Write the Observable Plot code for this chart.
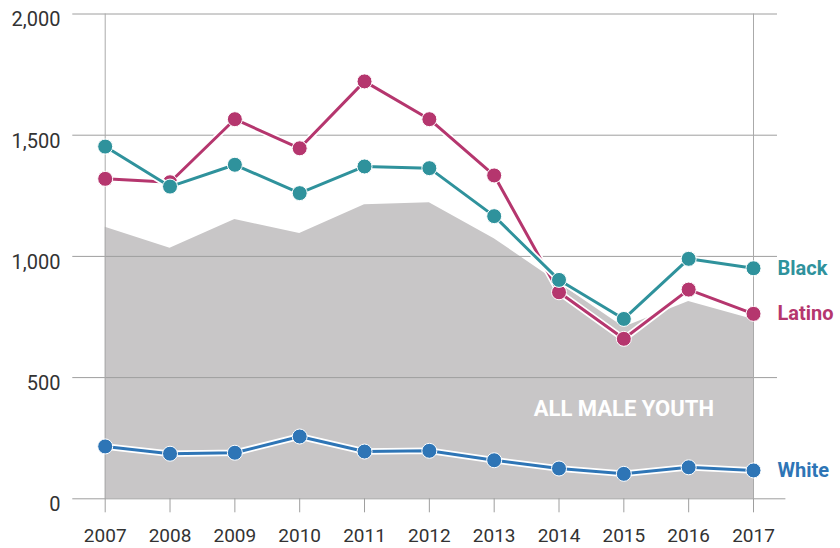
<!DOCTYPE html>
<html><head><meta charset="utf-8">
<script src="https://cdn.jsdelivr.net/npm/d3@7"></script>
<script src="https://cdn.jsdelivr.net/npm/@observablehq/plot@0.6"></script>
<style>
body{margin:0;background:#fff;}
#chart svg{display:block;}
</style>
</head><body><div id="chart"></div>
<script>
const years = [2007, 2008, 2009, 2010, 2011, 2012, 2013, 2014, 2015, 2016, 2017];
const black = [1453, 1288, 1378, 1261, 1371, 1364, 1166, 903, 742, 990, 951];
const latino = [1320, 1306, 1566, 1446, 1722, 1566, 1334, 852, 660, 863, 763];
const white = [216, 186, 190, 257, 195, 198, 159, 125, 103, 130, 117];
const allMaleYouth = [1120, 1034, 1152, 1094, 1213, 1221, 1073, 890, 708, 814, 740];
const yTicks = [0, 500, 1000, 1500, 2000];
const seriesNames = ["Latino", "Black", "White"];
const seriesColors = {Black: "#2f929c", Latino: "#b5366e", White: "#2e75b6"};
const areaLabel = [{text: "ALL MALE YOUTH", year: 2015, value: 372}];

const seriesValues = {Black: black, Latino: latino, White: white};
const rows = seriesNames.flatMap(name => years.map((year, i) => ({name, year, value: seriesValues[name][i]})));
const areaRows = years.map((year, i) => ({year, value: allMaleYouth[i]}));
const endLabels = seriesNames.map(name => ({name, year: years[years.length - 1], value: seriesValues[name][years.length - 1]}));

const gridColor = "#9e9e9e";
const fontBody = "Roboto, 'Liberation Sans', sans-serif";
const fontBold = "Roboto, 'Liberation Sans', sans-serif";

const seriesMarks = seriesNames.flatMap(name => {
  const d = rows.filter(r => r.name === name);
  return [
    Plot.line(d, {x: "year", y: "value", stroke: "white", strokeWidth: 6.5}),
    Plot.line(d, {x: "year", y: "value", stroke: seriesColors[name], strokeWidth: 3}),
    Plot.dot(d, {x: "year", y: "value", r: 7.5, fill: seriesColors[name], stroke: "white", strokeWidth: 1})
  ];
});

const chart = Plot.plot({
  width: 840,
  height: 548,
  marginLeft: 104.7,
  marginRight: 87,
  marginTop: 13.5,
  marginBottom: 49.7,
  x: {domain: [2007, 2017]},
  y: {domain: [0, 2000]},
  style: {fontFamily: fontBody, color: "#333", background: "white"},
  marks: [
    Plot.areaY(areaRows, {x: "year", y: "value", fill: "#c8c6c7"}),
    Plot.ruleY(yTicks.filter(d => d > 0), {y: d => d, x1: () => 2006.5, x2: () => 2017.37, stroke: gridColor, strokeWidth: 1}),
    Plot.ruleY([0], {y: d => d, x1: () => 2006.5, x2: () => 2017.5, stroke: gridColor, strokeWidth: 1}),
    Plot.ruleX([years[0], years[years.length - 1]], {x: d => d, y1: () => 0, y2: () => 2000, stroke: "#aaa", strokeWidth: 1}),
    Plot.axisX({ticks: years, tickSize: 14, tickPadding: 16, tickFormat: d => String(d), fontSize: 19, stroke: gridColor, fill: "#333", label: null}),
    Plot.axisY({ticks: yTicks, tickSize: 0, tickPadding: 44.7, dy: 6, tickFormat: d3.format(","), fontSize: 20, fill: "#333", label: null}),
    Plot.text(areaLabel, {x: "year", y: "value", text: "text", fill: "white", fontSize: 22, fontWeight: "bold", fontFamily: fontBold, textAnchor: "middle"}),
    ...seriesMarks,
    Plot.text(endLabels, {x: "year", y: "value", text: "name", dx: 24, textAnchor: "start", fill: d => seriesColors[d.name], fontSize: 20, fontWeight: "bold", fontFamily: fontBold})
  ]
});
document.getElementById("chart").appendChild(chart);
</script>
</body></html>
